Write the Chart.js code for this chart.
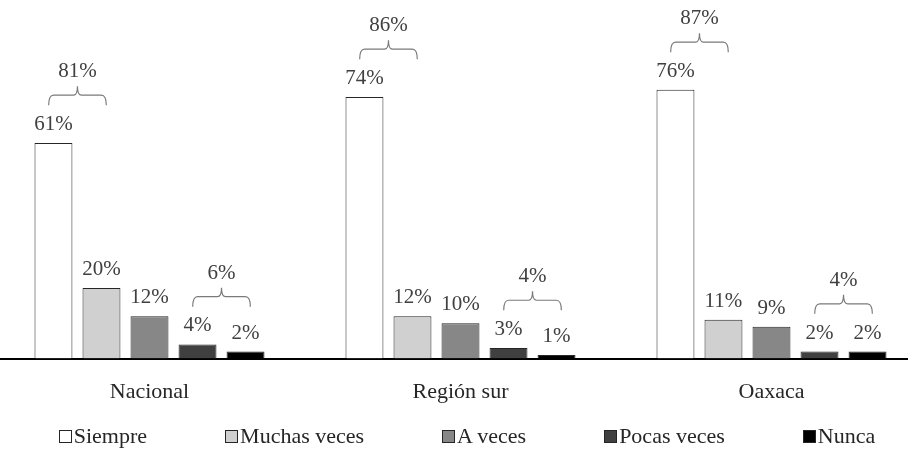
<!DOCTYPE html>
<html>
<head>
<meta charset="utf-8">
<script src="https://cdn.jsdelivr.net/npm/chart.js@4"></script>
<style>
  body { margin: 0; background: #fff; overflow: hidden; width: 908px; height: 450px; position: relative; }
  #wrap { position: absolute; left: -6px; top: 0; width: 933px; height: 450px; }
  #legend {
    position: absolute; left: 0; top: 424px; width: 908px; box-sizing: border-box; padding-left: 26px;
    display: flex; justify-content: center; gap: 78px;
    font-family: 'Liberation Serif', serif; font-size: 22px; line-height: 24px; color: #262626;
  }
  #legend .box { display: inline-block; width: 11px; height: 11px; border: 1px solid #262626; margin-right: 2px; }
</style>
</head>
<body>
<div id="wrap"><canvas id="chart"></canvas></div>
<div id="legend"></div>
<script>
const categories = ['Nacional', 'Región sur', 'Oaxaca'];
const seriesNames = ['Siempre', 'Muchas veces', 'A veces', 'Pocas veces', 'Nunca'];
const siempre = [61, 74, 76];
const muchasVeces = [20, 12, 11];
const aVeces = [12, 10, 9];
const pocasVeces = [4, 3, 2];
const nunca = [2, 1, 2];
// totals shown over the braces
const totalAlto = [81, 86, 87];   // Siempre + Muchas veces
const totalBajo = [6, 4, 4];      // Pocas veces + Nunca

const colors = ['#ffffff', '#d0d0d0', '#878787', '#404040', '#000000'];
const values = [siempre, muchasVeces, aVeces, pocasVeces, nunca];

Chart.defaults.font.family = "'Liberation Serif', serif";

// value labels on top of each bar
const barLabels = {
  id: 'barLabels',
  afterDatasetsDraw(chart) {
    const ctx = chart.ctx;
    ctx.save();
    ctx.font = "21px 'Liberation Serif'";
    ctx.fillStyle = '#404040';
    ctx.textAlign = 'center';
    ctx.textBaseline = 'alphabetic';
    chart.data.datasets.forEach((ds, i) => {
      chart.getDatasetMeta(i).data.forEach((bar, j) => {
        ctx.fillText(ds.data[j] + '%', bar.x, bar.y - 13);
      });
    });
    ctx.restore();
  }
};

// curly braces grouping two bars, with their sum
function drawBrace(ctx, left, right, yl) {
  const mid = (left + right) / 2;
  ctx.beginPath();
  ctx.moveTo(left, yl + 10);
  ctx.quadraticCurveTo(left, yl, left + 5, yl);
  ctx.lineTo(mid - 4, yl);
  ctx.quadraticCurveTo(mid, yl, mid, yl - 9);
  ctx.quadraticCurveTo(mid, yl, mid + 4, yl);
  ctx.lineTo(right - 5, yl);
  ctx.quadraticCurveTo(right, yl, right, yl + 10);
  ctx.stroke();
}

const braces = {
  id: 'braces',
  afterDatasetsDraw(chart) {
    const ctx = chart.ctx;
    const y = chart.scales.y;
    const groups = [[0, 1, totalAlto], [3, 4, totalBajo]];
    ctx.save();
    ctx.strokeStyle = '#7a7a7a';
    ctx.lineWidth = 1.2;
    ctx.fillStyle = '#404040';
    ctx.font = "21px 'Liberation Serif'";
    ctx.textAlign = 'center';
    groups.forEach(([a, b, totals]) => {
      const ma = chart.getDatasetMeta(a), mb = chart.getDatasetMeta(b);
      categories.forEach((c, j) => {
        const xa = ma.data[j].x, xb = mb.data[j].x;
        const mid = (xa + xb) / 2, half = (xb - xa) * 0.6;
        const top = Math.max(values[a][j], values[b][j]) + 13.5;
        const yl = y.getPixelForValue(top);
        drawBrace(ctx, mid - half, mid + half, yl);
        ctx.fillText(totals[j] + '%', mid, yl - 18);
      });
    });
    ctx.restore();
  }
};

const htmlLegend = {
  id: 'htmlLegend',
  afterUpdate(chart) {
    const el = document.getElementById('legend');
    el.innerHTML = '';
    chart.data.datasets.forEach(ds => {
      const item = document.createElement('span');
      const box = document.createElement('span');
      box.className = 'box';
      box.style.background = ds.backgroundColor;
      item.appendChild(box);
      item.appendChild(document.createTextNode(ds.label));
      el.appendChild(item);
    });
  }
};

new Chart(document.getElementById('chart'), {
  type: 'bar',
  data: {
    labels: categories,
    datasets: seriesNames.map((name, i) => ({
      label: name,
      data: values[i],
      backgroundColor: colors[i],
      borderColor: '#262626',
      borderWidth: 1,
      barPercentage: 0.79,
      categoryPercentage: 0.772
    }))
  },
  options: {
    responsive: true,
    maintainAspectRatio: false,
    animation: false,
    layout: { padding: { top: 5, bottom: 25, left: 0, right: 0 } },
    plugins: {
      legend: { display: false },
      tooltip: { enabled: false }
    },
    scales: {
      x: {
        grid: { display: false, drawTicks: false },
        border: { display: true, color: '#000', width: 2 },
        ticks: { padding: 20, color: '#262626', font: { size: 22 } }
      },
      y: {
        display: false,
        min: 0,
        max: 100
      }
    }
  },
  plugins: [barLabels, braces, htmlLegend]
});
</script>
</body>
</html>
